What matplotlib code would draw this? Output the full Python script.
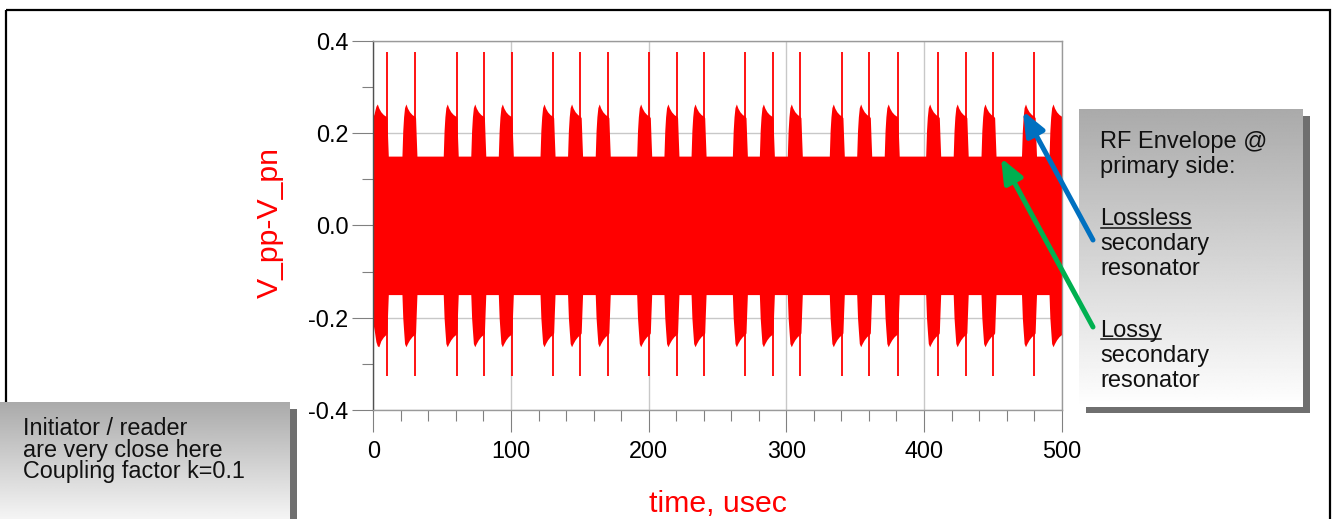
import numpy as np
import matplotlib
matplotlib.use("Agg")
import matplotlib.pyplot as plt
from matplotlib.patches import Rectangle, FancyArrowPatch
from matplotlib.ticker import MultipleLocator, FuncFormatter

plt.rcParams["font.family"] = ["Liberation Sans", "DejaVu Sans"]
plt.rcParams["axes.unicode_minus"] = False

# --- data -------------------------------------------------------------------
# start of each RF burst and the position of the switching spike (usec)
burst_start = [0.0, 20.8, 50.8, 70.8, 90.8, 121.1, 141.1, 161.2, 191.3, 211.1,
               230.8, 260.8, 280.4, 300.7, 331.2, 351.1, 371.1, 401.2, 421.2,
               441.4, 470.8, 490.8]
spike_time = [10.2, 30.6, 60.5, 80.4, 100.5, 130.3, 150.2, 170.2, 200.0, 220.3,
              240.2, 270.2, 290.1, 309.9, 340.4, 360.3, 380.8, 410.0, 430.2,
              450.3, 479.8]
spike_top = 0.375
spike_bottom = -0.326

# envelope of one burst: offset from burst start (usec), upper / lower level (V)
burst_offset = [0.0, 0.6, 1.2, 1.9, 2.9, 4.0, 5.5, 7.3, 9.3, 9.9, 10.4, 10.9]
burst_upper = [0.150, 0.205, 0.235, 0.255, 0.263, 0.254, 0.246, 0.240, 0.236, 0.233, 0.190, 0.150]
burst_lower = [-0.150, -0.200, -0.227, -0.256, -0.263, -0.256, -0.248, -0.241, -0.236, -0.233, -0.190, -0.150]
# first burst is already running when the trace starts
first_upper = [0.237, 0.242, 0.250, 0.258, 0.263, 0.254, 0.246, 0.240, 0.236, 0.233, 0.190, 0.150]
first_lower = [-0.216, -0.226, -0.238, -0.252, -0.261, -0.263, -0.250, -0.242, -0.236, -0.233, -0.190, -0.150]

RED = "#FF0000"
W, H = 1332, 519

# --- build envelope ----------------------------------------------------------
t, up, lo = [], [], []
for i, t0 in enumerate(burst_start):
    u = first_upper if i == 0 else burst_upper
    l = first_lower if i == 0 else burst_lower
    t += [t0 + o for o in burst_offset]
    up += u
    lo += l
t, up, lo = np.array(t), np.array(up), np.array(lo)

fig = plt.figure(figsize=(W / 100, H / 100), dpi=100)
fig.patch.set_facecolor("white")

# plot area in pixels: x 373..1062, y 41..410
ax = fig.add_axes([373.3 / W, (H - 410) / H, 688.4 / W, 369.3 / H], zorder=1)
ax.fill_between(t, lo, up, color=RED, lw=0, zorder=2)
ax.vlines(spike_time, spike_bottom, spike_top, color=RED, lw=1.3, zorder=2)

ax.set_xlim(0, 500)
ax.set_ylim(-0.4, 0.4)
ax.xaxis.set_major_locator(MultipleLocator(100))
ax.xaxis.set_minor_locator(MultipleLocator(20))
ax.yaxis.set_major_locator(MultipleLocator(0.2))
ax.yaxis.set_minor_locator(MultipleLocator(0.1))
ax.yaxis.set_major_formatter(FuncFormatter(lambda v, p: "%.1f" % v))
ax.grid(True, which="major", color="#c8c8c8", lw=1.0)
ax.set_axisbelow(True)
for side in ("top", "right", "bottom"):
    ax.spines[side].set_color("#9a9a9a")
ax.spines["left"].set_color("#505050")
for s in ax.spines.values():
    s.set_linewidth(1.0)
ax.tick_params(which="both", direction="out", color="#808080", width=0.8,
               labelsize=16.8, labelcolor="black")
ax.tick_params(axis="x", which="major", length=15.8, pad=6.0)
ax.tick_params(axis="x", which="minor", length=7.9)
ax.tick_params(axis="y", which="major", length=15.2, pad=2.7)
ax.tick_params(axis="y", which="minor", length=7.9)

fig.text(717.5 / W, (H - 512) / H, "time, usec", color=RED, fontsize=21.8,
         ha="center", va="baseline")
fig.text(270 / W, (H - 222.5) / H, "V_pp-V_pn", color=RED, fontsize=21.8,
         rotation=90, ha="center", va="center")

# --- overlay in pixel coordinates ---------------------------------------------
ov = fig.add_axes([0, 0, 1, 1], zorder=5)
ov.set_xlim(0, W)
ov.set_ylim(H, 0)
ov.axis("off")
ov.patch.set_alpha(0)

# outer frame
ov.add_patch(Rectangle((6, 10), 1324, 560, fill=False, ec="black", lw=1.6, zorder=1))

grad = np.linspace(0, 1, 256).reshape(-1, 1)


def shaded_box(x0, y0, x1, y1, shadow=6.7):
    ov.add_patch(Rectangle((x0 + shadow, y0 + shadow), x1 - x0, y1 - y0,
                           fc="#6f6f6f", ec="none", zorder=2))
    ov.imshow(grad, extent=(x0, x1, y1, y0), cmap="gray", vmin=-2.0, vmax=1.0,
              aspect="auto", interpolation="bilinear", zorder=3)


# gray gradient: top ~#aaa to white
shaded_box(1079.3, 109.3, 1303.3, 406.7)
shaded_box(-10, 402.7, 290, 535)
ov.set_xlim(0, W)
ov.set_ylim(H, 0)

TXT = "#111111"
right_lines = [("RF Envelope @", 148.3, False), ("primary side:", 173.5, False),
               ("Lossless", 225.0, True), ("secondary", 250.2, False),
               ("resonator", 275.4, False), ("Lossy", 336.5, True),
               ("secondary", 361.8, False), ("resonator", 387.0, False)]
left_lines = [("Initiator / reader", 435.0), ("are very close here", 456.7),
              ("Coupling factor k=0.1", 478.3)]

under = []
for s, yb, ul in right_lines:
    tx = ov.text(1100, yb, s, fontsize=17, color=TXT, va="baseline", ha="left", zorder=4)
    if ul:
        under.append((tx, yb))
for s, yb in left_lines:
    ov.text(23, yb, s, fontsize=16.8, color=TXT, va="baseline", ha="left", zorder=4)

fig.canvas.draw()
r = fig.canvas.get_renderer()
for tx, yb in under:
    bb = tx.get_window_extent(r)
    ov.plot([bb.x0 + 1, bb.x1 - 1], [yb + 2.5, yb + 2.5], color=TXT, lw=1.1, zorder=4)

# arrows
for (xa, ya), (xb, yb), col in [((1093, 240), (1023, 111), "#0070C0"),
                                ((1093, 327), (1001, 158), "#00B050")]:
    ov.add_patch(FancyArrowPatch((xa, ya), (xb, yb),
                                 arrowstyle="-|>,head_length=1.45,head_width=0.6",
                                 mutation_scale=10, color=col, lw=3.6,
                                 shrinkA=0, shrinkB=0, zorder=6))

fig.savefig("out.png", dpi=100)
